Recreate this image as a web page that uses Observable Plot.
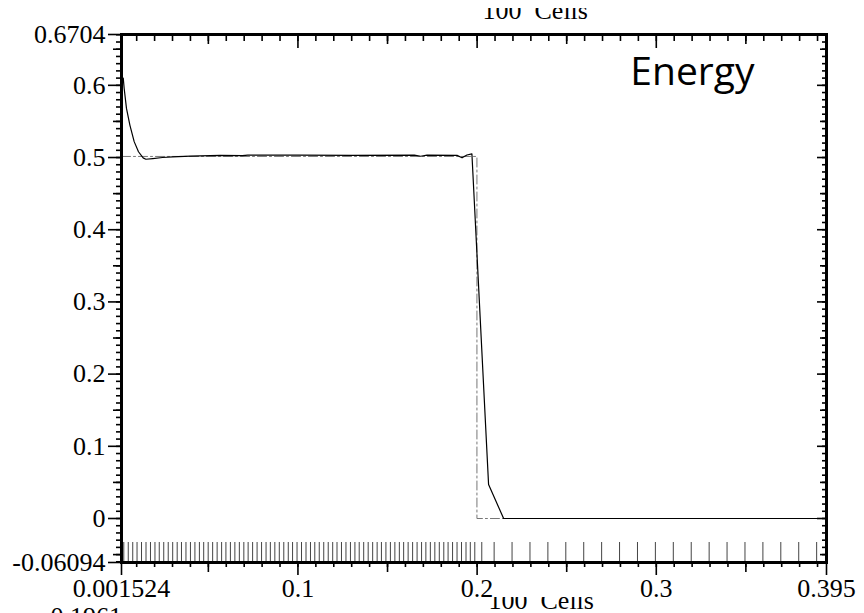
<!DOCTYPE html>
<html><head><meta charset="utf-8">
<script src="https://cdn.jsdelivr.net/npm/d3@7"></script>
<script src="https://cdn.jsdelivr.net/npm/@observablehq/plot@0.6"></script>
<style>body{margin:0;background:#fff}</style>
</head><body><div id="chart"></div>
<script>
// numerical solution (solid)
const numX = [0.0025, 0.0030, 0.0043, 0.0062, 0.0086, 0.0110, 0.0136, 0.0151, 0.0190, 0.0244, 0.0300, 0.0400, 0.0567, 0.0690, 0.0720, 0.1000, 0.1300, 0.1650, 0.1685, 0.1720, 0.1888, 0.1916, 0.1943, 0.1971, 0.2064, 0.2148, 0.3950];
const numE = [0.610, 0.596, 0.568, 0.545, 0.522, 0.508, 0.4995, 0.4976, 0.4985, 0.5000, 0.5010, 0.5020, 0.5030, 0.5025, 0.5032, 0.5032, 0.5030, 0.5032, 0.5018, 0.5032, 0.5030, 0.4996, 0.5035, 0.5050, 0.047, 0.0, 0.0];
// exact solution (dash-dot)
const exactX = [0.001524, 0.1999, 0.1999, 0.395];
const exactE = [0.5015, 0.5015, 0, 0];
// cell positions (100 cells)
const cellX = [0.0028,0.0053,0.0078,0.0102,0.0127,0.0152,0.0177,0.0202,0.0226,0.0251,
0.0276,0.0301,0.0326,0.0350,0.0375,0.0400,0.0425,0.0450,0.0474,0.0499,
0.0524,0.0549,0.0574,0.0598,0.0623,0.0648,0.0673,0.0698,0.0722,0.0747,
0.0772,0.0797,0.0822,0.0846,0.0871,0.0896,0.0921,0.0946,0.0970,0.0995,
0.1020,0.1045,0.1070,0.1094,0.1119,0.1144,0.1169,0.1194,0.1218,0.1243,
0.1268,0.1293,0.1318,0.1342,0.1367,0.1392,0.1417,0.1442,0.1466,0.1491,
0.1516,0.1541,0.1566,0.1590,0.1615,0.1640,0.1665,0.1690,0.1714,0.1739,
0.1764,0.1789,0.1814,0.1838,0.1863,0.1888,0.1913,0.1938,0.1962,0.1987,
0.2026,0.2095,0.2195,0.2295,0.2395,0.2495,0.2595,0.2695,0.2795,0.2895,
0.2995,0.3095,0.3195,0.3295,0.3395,0.3495,0.3595,0.3695,0.3795,0.3895];

const xTickValues = [0.001524, 0.1, 0.2, 0.3, 0.395];
const xTickLabels = ["0.001524", "0.1", "0.2", "0.3", "0.395"];
const yTickValues = [-0.06094, 0, 0.1, 0.2, 0.3, 0.4, 0.5, 0.6, 0.6704];
const yTickLabels = ["-0.06094", "0", "0.1", "0.2", "0.3", "0.4", "0.5", "0.6", "0.6704"];
const titleText = "100\u00A0 Cells";
const panelLabel = "Energy";
const cornerText = "0.1961";

const xMinor = d3.range(1, 40).map(i => i / 100);
const xMid = [0.05, 0.15, 0.25, 0.35];
const xMajor = [0.1, 0.2, 0.3];
const yMinor = d3.range(-6, 68).map(i => i / 100);
const yMid = d3.range(-1, 14, 2).map(i => i * 0.05);
const yMajor = [0, 0.1, 0.2, 0.3, 0.4, 0.5, 0.6];

const num = numX.map((x, i) => ({x, e: numE[i]}));
const exact = exactX.map((x, i) => ({x, e: exactE[i]}));

const W = 864, H = 613, mL = 121, mR = 38, mT = 34, mB = 51;
const frameH = H - mT - mB;
const serif = "Liberation Serif, Times New Roman, serif";
const noText = {tickFormat: () => "", fill: "none", label: null};

const tickAx = (data, anchor, size, extra) =>
  (anchor === "top" || anchor === "bottom" ? Plot.axisX : Plot.axisY)(data, {anchor, tickSize: size, strokeWidth: 1.6, ...noText, ...extra});

const chart = Plot.plot({
  width: W, height: H,
  marginLeft: mL, marginRight: mR, marginTop: mT, marginBottom: mB,
  x: {domain: [0.001524, 0.395], label: null},
  y: {domain: [-0.06094, 0.6704], label: null},
  style: {fontFamily: serif, background: "white", color: "black"},
  marks: [
    Plot.tickX(cellX, {x: d => d, insetTop: frameH - 20, stroke: "#444", strokeWidth: 1}),
    Plot.line(exact, {x: "x", y: "e", stroke: "#777", strokeWidth: 1, strokeDasharray: "9,3,2,3"}),
    Plot.line(num, {x: "x", y: "e", stroke: "black", strokeWidth: 1.2}),
    // bottom (outward)
    tickAx(xMinor, "bottom", 5),
    tickAx(xMid, "bottom", 10),
    Plot.axisX(xTickValues, {anchor: "bottom", tickSize: 13, tickPadding: 3, strokeWidth: 1.6,
      tickFormat: d => xTickLabels[xTickValues.indexOf(d)], fontSize: 26, fontFamily: serif, label: null}),
    // top (inward)
    tickAx(xMinor, "top", 6, {dy: 6}),
    tickAx(xMid, "top", 9, {dy: 9}),
    tickAx(xMajor, "top", 13, {dy: 13}),
    // left (outward)
    tickAx(yMinor, "left", 5),
    tickAx(yMid, "left", 8),
    Plot.axisY(yTickValues, {anchor: "left", tickSize: 13, tickPadding: 3, strokeWidth: 1.6,
      tickFormat: d => yTickLabels[yTickValues.indexOf(d)], fontSize: 26, fontFamily: serif, label: null}),
    // right (inward)
    tickAx(yMinor, "right", 5, {dx: -5}),
    tickAx(yMid, "right", 7, {dx: -7}),
    tickAx(yMajor, "right", 10, {dx: -10}),
    Plot.frame({stroke: "black", strokeWidth: 3}),
    Plot.text([panelLabel], {text: d => d, frameAnchor: "top-right", dx: -72, dy: 38, textAnchor: "end",
      lineAnchor: "middle", fontFamily: "Open Sans", fontSize: 39, fill: "black"}),
    Plot.text([titleText], {text: d => d, frameAnchor: "top-left", dx: 361, dy: -16, textAnchor: "start",
      lineAnchor: "bottom", fontFamily: serif, fontSize: 26, fill: "black"}),
    Plot.text([titleText], {text: d => d, frameAnchor: "bottom-left", dx: 367, dy: 46, textAnchor: "start",
      lineAnchor: "bottom", fontFamily: serif, fontSize: 26, fill: "black"}),
    Plot.text([cornerText], {text: d => d, frameAnchor: "bottom-left", dx: -71, dy: 62, textAnchor: "start",
      lineAnchor: "bottom", fontFamily: serif, fontSize: 26, fill: "black"})
  ]
});
document.getElementById("chart").appendChild(chart);

// the two "100 Cells" captions are partly hidden in the reference: clip them
const NS = "http://www.w3.org/2000/svg";
const defs = document.createElementNS(NS, "defs");
chart.insertBefore(defs, chart.firstChild);
const clipDefs = [["cells-clip-top", 8], ["cells-clip-bot", 597]];
for (const [id, y0] of clipDefs) {
  const cp = document.createElementNS(NS, "clipPath");
  cp.setAttribute("id", id);
  const r = document.createElementNS(NS, "rect");
  r.setAttribute("x", 0); r.setAttribute("y", y0);
  r.setAttribute("width", W); r.setAttribute("height", H);
  cp.appendChild(r); defs.appendChild(cp);
}
const cellGroups = Array.from(chart.querySelectorAll('g[aria-label="text"]'))
  .filter(g => g.textContent.includes("Cells"));
cellGroups.forEach((g, i) => {
  const wrap = document.createElementNS(NS, "g");
  wrap.setAttribute("clip-path", `url(#${clipDefs[Math.min(i, 1)][0]})`);
  g.parentNode.insertBefore(wrap, g);
  wrap.appendChild(g);
});
</script>
</body></html>
